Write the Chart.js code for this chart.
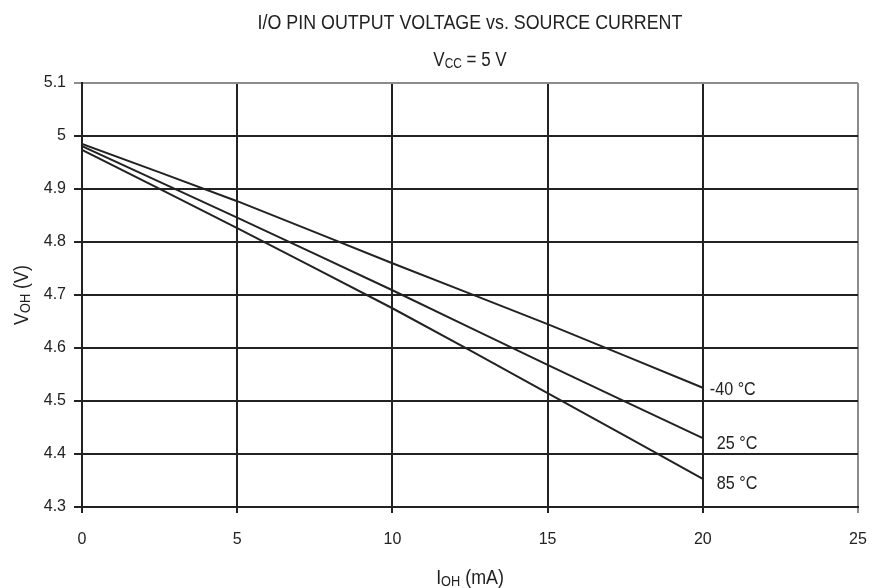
<!DOCTYPE html>
<html>
<head>
<meta charset="utf-8">
<script src="https://cdn.jsdelivr.net/npm/chart.js@4"></script>
<style>
  html, body { margin:0; padding:0; background:#fff; }
  #wrap { width:875px; height:588px; }
</style>
</head>
<body>
<div id="wrap"><canvas id="chart" width="875" height="588"></canvas></div>
<script>
// ---------------------------------------------------------------
// Data
// ---------------------------------------------------------------
const currents   = [0, 5, 10, 15, 20];                      // I_OH (mA)
const vohMinus40 = [4.985, 4.877, 4.760, 4.645, 4.525];     // V_OH at -40 °C
const voh25      = [4.981, 4.846, 4.709, 4.568, 4.430];     // V_OH at 25 °C
const voh85      = [4.974, 4.826, 4.675, 4.515, 4.353];     // V_OH at 85 °C
const seriesLabels = ['-40 °C', '25 °C', '85 °C'];
const xTicks = [0, 5, 10, 15, 20, 25];
const yMin = 4.3, yMax = 5.1, yStep = 0.1;

const FONT = '"Liberation Sans", Arial, sans-serif';
const INK = '#222222';
const EDGE = '#8c8c8c';
const NARROW = 0.85;   // the original lettering is a condensed sans

const toPoints = ys => currents.map((x, i) => ({ x, y: ys[i] }));

// text with optional subscript pieces, e.g. [['V'],['OH',true],[' (V)']]
// align: 'center' or 'left'
function drawText(ctx, parts, x, y, size, opts = {}){
  ctx.save();
  ctx.translate(x, y);
  if (opts.rotate) ctx.rotate(-Math.PI/2);
  ctx.scale(NARROW, 1);
  const subSize = Math.round(size * 0.72);
  let w = 0;
  parts.forEach(p => {
    ctx.font = (p[1] ? subSize : size) + 'px ' + FONT;
    w += ctx.measureText(p[0]).width;
  });
  let cx = opts.align === 'left' ? 0 : -w/2;
  ctx.fillStyle = INK;
  ctx.textBaseline = 'alphabetic';
  ctx.textAlign = 'left';
  parts.forEach(p => {
    ctx.font = (p[1] ? subSize : size) + 'px ' + FONT;
    ctx.fillText(p[0], cx, p[1] ? size*0.36 + 2 : size*0.36);
    cx += ctx.measureText(p[0]).width;
  });
  ctx.restore();
}

const annotations = {
  id: 'annotations',
  afterDraw(chart){
    const ctx = chart.ctx;
    const xs = chart.scales.x, ys = chart.scales.y;
    const area = chart.chartArea;
    const midX = (area.left + area.right) / 2;

    drawText(ctx, [['I/O PIN OUTPUT VOLTAGE vs. SOURCE CURRENT']], midX, 21, 21);
    drawText(ctx, [['V'],['CC',true],[' = 5 V']], midX, 59, 20);
    drawText(ctx, [['I'],['OH',true],[' (mA)']], midX, 576, 21);
    drawText(ctx, [['V'],['OH',true],[' (V)']], 20, (area.top + area.bottom)/2, 21, { rotate: true });

    // curve end labels
    const ends = [vohMinus40, voh25, voh85];
    const dx = [7, 14, 14], dy = [0, 4, 3];
    ends.forEach((s, i) => {
      const last = s.length - 1;
      drawText(ctx, [[seriesLabels[i]]],
        xs.getPixelForValue(currents[last]) + dx[i],
        ys.getPixelForValue(s[last]) + dy[i], 19, { align: 'left' });
    });
  }
};

const lineStyle = { borderColor: INK, backgroundColor: INK, borderWidth: 2, pointRadius: 0, tension: 0.2, fill: false };

new Chart(document.getElementById('chart'), {
  type: 'line',
  data: {
    datasets: [
      { label: seriesLabels[0], data: toPoints(vohMinus40), ...lineStyle },
      { label: seriesLabels[1], data: toPoints(voh25), ...lineStyle },
      { label: seriesLabels[2], data: toPoints(voh85), ...lineStyle }
    ]
  },
  options: {
    responsive: false,
    animation: false,
    layout: { padding: { left: 0, top: 83, right: 17, bottom: 0 } },
    plugins: { legend: { display: false }, tooltip: { enabled: false }, title: { display: false } },
    scales: {
      x: {
        type: 'linear',
        min: 0, max: 25,
        afterBuildTicks: s => { s.ticks = xTicks.map(v => ({ value: v })); },
        afterFit: s => { s.height = 81; s.paddingLeft = 0; s.paddingRight = 0; },
        ticks: { color: INK, font: { family: FONT, size: 16 }, padding: 17, maxRotation: 0 },
        grid: {
          color: c => (c.tick && c.tick.value === 25) ? EDGE : INK,
          lineWidth: 2,
          tickLength: 6
        },
        border: { color: INK, width: 2 }
      },
      y: {
        min: yMin, max: yMax,
        ticks: {
          stepSize: yStep,
          color: INK,
          font: { family: FONT, size: 16 },
          padding: 8,
          callback: v => String(Number(v.toFixed(1)))
        },
        afterFit: s => { s.width = 82; s.paddingTop = 0; s.paddingBottom = 0; },
        grid: {
          color: c => (c.tick && Math.abs(c.tick.value - yMax) < 1e-6) ? EDGE : INK,
          lineWidth: 2,
          tickLength: 8
        },
        border: { color: INK, width: 2 }
      }
    }
  },
  plugins: [annotations]
});
</script>
</body>
</html>
